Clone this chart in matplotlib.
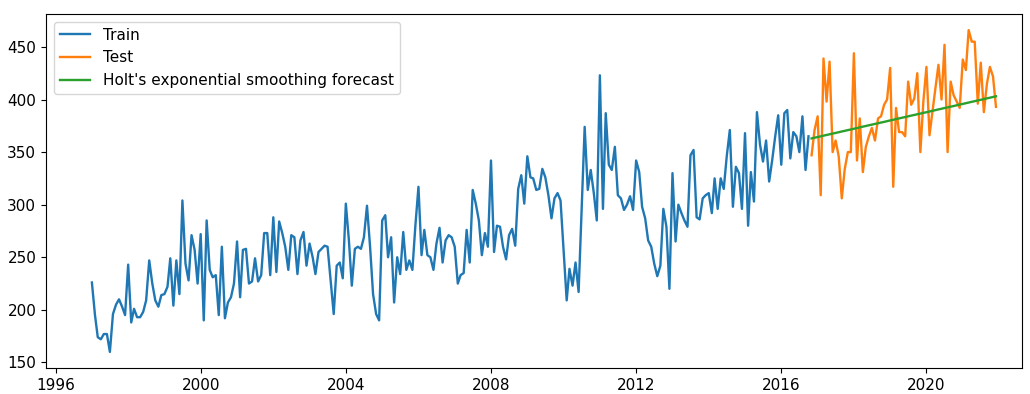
import matplotlib
matplotlib.use("Agg")
import matplotlib.pyplot as plt
import matplotlib.dates as mdates
import pandas as pd

# Monthly observations, Jan 1997 - Oct 2016 (training part)
train_values = [
    226, 195, 174, 172, 177, 177, 160, 196, 205, 210, 203, 195, 243, 188, 201, 193,
    193, 198, 209, 247, 225, 209, 203, 214, 215, 222, 249, 204, 247, 215, 304,
    244, 228, 271, 257, 225, 272, 190, 285, 238, 231, 233, 195, 260, 192, 207, 212,
    225, 265, 212, 257, 258, 225, 227, 249, 227, 233, 273, 273, 233, 288, 236, 284,
    273, 260, 238,
    271, 269, 234, 266, 274, 242, 263, 250, 234, 255, 258, 261, 260, 228, 196, 242,
    245, 230, 301, 266, 223, 258, 260, 258, 269, 299, 260, 215, 196, 190, 285, 290, 250,
    269, 207, 250, 234, 274, 238, 247, 238, 280, 317, 252, 276, 252, 250, 238, 263,
    278, 245, 266, 271, 269, 260, 225, 233, 235, 276, 245, 314, 301, 285, 252, 273,
    260, 342,
    255, 280, 279, 260, 248, 271, 277, 261, 315, 328, 301, 346, 326, 325, 314, 315,
    334, 326, 309, 287, 306, 311, 304, 257, 209, 239, 223, 245, 217, 295, 374, 314, 333,
    311, 285, 423, 296, 387, 338, 333, 355, 309, 306, 295, 300, 308, 295, 342, 331,
    298, 287, 266, 260, 244, 232, 242, 296, 279, 220, 330, 265, 300, 292, 285, 279, 347,
    352, 288, 286, 306, 309, 311, 292, 325, 296, 325, 315, 346, 371, 298, 336, 330,
    296, 368, 280, 331, 303, 388, 357, 341, 361, 322, 342, 365, 385, 338, 387, 390, 344,
    369, 365, 350, 384, 333, 365,
]

# Held-out observations, Nov 2016 - Dec 2021
test_values = [
    347, 371, 384, 309, 439, 398, 436, 350, 361, 346, 306, 334, 350, 350, 444, 342,
    382, 331, 355, 365, 373, 361, 382, 384, 395, 400, 430,
    317, 392, 369, 369, 365, 417, 395, 401, 425, 350, 398, 431, 366, 388, 411, 433,
    400, 452, 350, 417, 404, 398, 392, 438, 428, 466, 455, 455, 396, 435, 388, 415,
    431, 422, 393,
]

# Holt's linear-trend forecast over the test horizon
forecast_values = [
    363.0, 363.7, 364.3, 365.0, 365.6, 366.3, 366.9, 367.6, 368.2, 368.9, 369.6, 370.2,
    370.9, 371.5, 372.2, 372.8, 373.5, 374.2, 374.8, 375.5, 376.1, 376.8, 377.4, 378.1,
    378.7, 379.4, 380.1, 380.7, 381.4, 382.0, 382.7, 383.3, 384.0, 384.7, 385.3, 386.0,
    386.6, 387.3, 387.9, 388.6, 389.2, 389.9, 390.6, 391.2, 391.9, 392.5, 393.2, 393.8,
    394.5, 395.2, 395.8, 396.5, 397.1, 397.8, 398.4, 399.1, 399.7, 400.4, 401.1, 401.7,
    402.4, 403.0,
]

train_index = pd.date_range("1997-01-01", periods=len(train_values), freq="MS")
test_index = pd.date_range(train_index[-1] + pd.offsets.MonthBegin(1),
                           periods=len(test_values), freq="MS")

plt.rcParams["font.size"] = 11
plt.rcParams["lines.linewidth"] = 1.7

fig = plt.figure(figsize=(10.30, 3.94), dpi=100)
ax = fig.add_axes([46 / 1030, 26 / 394, 976 / 1030, 354 / 394])

ax.plot(train_index, train_values, label="Train")
ax.plot(test_index, test_values, label="Test")
ax.plot(test_index, forecast_values, label="Holt's exponential smoothing forecast")

ax.xaxis.set_major_locator(mdates.YearLocator(4))
ax.xaxis.set_major_formatter(mdates.DateFormatter("%Y"))
ax.set_xlim(pd.Timestamp("1995-09-27"), pd.Timestamp("2022-08-20"))

ax.legend(loc="upper left")

fig.savefig("out.png", dpi=100)
